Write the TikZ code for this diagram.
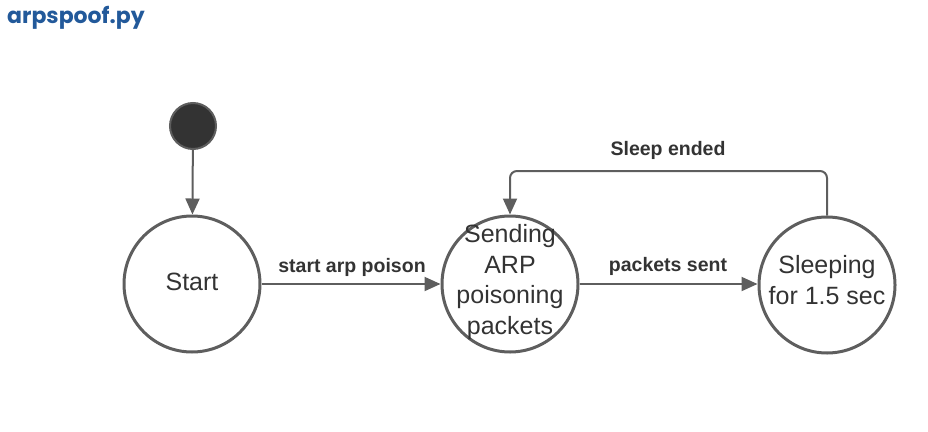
\documentclass[tikz,border=0pt]{standalone}
\usepackage{fontspec}
\setmainfont{Liberation Sans}
\newfontfamily\titlefont{Poppins}
\usetikzlibrary{arrows.meta}
\definecolor{linegrey}{HTML}{5E5E5E}
\definecolor{textgrey}{HTML}{333333}
\definecolor{initfill}{HTML}{333333}
\definecolor{titleblue}{HTML}{22599A}
\tikzset{
  state/.style={circle,draw=linegrey,line width=3pt,minimum size=136pt,inner sep=0pt},
  statetext/.style={text=textgrey,font=\fontsize{25}{30.5}\selectfont,align=center,inner sep=0pt},
  initstate/.style={circle,draw=linegrey,line width=2pt,fill=initfill,minimum size=46pt,inner sep=0pt},
  trans/.style={draw=linegrey,line width=2pt,-{Triangle[length=16pt,width=14pt]}},
  tlabel/.style={text=textgrey,font=\fontsize{19.5}{22}\selectfont\bfseries,inner sep=0pt},
}
\begin{document}
\begin{tikzpicture}[x=1pt,y=-1pt]
\useasboundingbox (0,0) rectangle (928,431);
\node[anchor=base west,text=titleblue,font=\titlefont\fontsize{22}{26}\selectfont\bfseries,inner sep=0pt] (title) at (7,23) {arpspoof.py};
\node[initstate] (init) at (193,126) {};
\node[state] (start) at (192,284) {};
\node[statetext] (starttxt) at (192,282) {Start};
\node[state] (send) at (510,284) {};
\node[statetext] (sendtxt) at (510,282) {Sending\\ARP\\poisoning\\packets};
\node[state] (sleep) at (827,285) {};
\node[statetext] (sleeptxt) at (827,280) {Sleeping\\for 1.5 sec};
\coordinate (c1) at (827,171);
\coordinate (c2) at (510,171);
\draw[trans] (init) -- (start);
\draw[trans] (start) -- (send);
\draw[trans] (send) -- (sleep.west |- send);
\draw[trans,rounded corners=7pt] (sleep.north) -- (c1) -- (c2) -- (send.north);
\node[tlabel] (l1) at (352,267) {start arp poison};
\node[tlabel] (l2) at (668,266) {packets sent};
\node[tlabel] (l3) at (668,150) {Sleep ended};
\end{tikzpicture}
\end{document}
